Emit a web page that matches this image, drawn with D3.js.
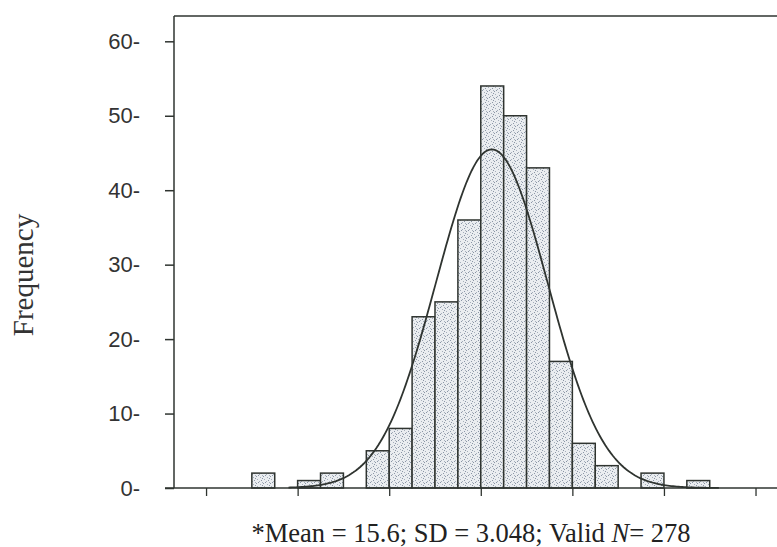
<!DOCTYPE html>
<html>
<head>
<meta charset="utf-8">
<script src="https://cdn.jsdelivr.net/npm/d3@7"></script>
<style>
  body { margin: 0; background: #fff; }
  svg { display: block; }
</style>
</head>
<body>
<div id="chart"></div>
<script>
// histogram data (bin start, bin width 1.25)
const binStarts = [2.5, 5, 6.25, 8.75, 10, 11.25, 12.5, 13.75, 15, 16.25, 17.5, 18.75, 20, 21.25, 23.75, 26.25];
const frequencies = [2, 1, 2, 5, 8, 23, 25, 36, 54, 50, 43, 17, 6, 3, 2, 1];
const binWidth = 1.25;
const yTicks = [0, 10, 20, 30, 40, 50, 60];
const xTicks = [0, 5, 10, 15, 20, 25, 30];
const stats = { mean: 15.6, sd: 3.048, n: 278 };

const W = 777, H = 547;
const ink = '#2f3430';

const svg = d3.select('#chart')
  .append('svg')
  .attr('width', W)
  .attr('height', H);

// stipple fill for the bars
const defs = svg.append('defs');
const pat = defs.append('pattern')
  .attr('id', 'stipple')
  .attr('patternUnits', 'userSpaceOnUse')
  .attr('width', 7)
  .attr('height', 7);
pat.append('rect').attr('width', 7).attr('height', 7).attr('fill', '#eaedf0');
[[1, 1], [4, 0], [5, 3], [2, 4], [0, 5], [6, 6], [3, 6], [3, 2]].forEach(([px, py], i) => {
  pat.append('rect')
    .attr('x', px).attr('y', py)
    .attr('width', 1).attr('height', 1)
    .attr('fill', i % 2 ? '#8a95a5' : '#a6afbb');
});

const x = d3.scaleLinear()
  .domain([-1.75, 31.2])
  .range([174, 777.5]);

const y = d3.scaleLinear()
  .domain([0, 63.4])
  .range([488, 16]);

// bars
svg.append('g')
  .selectAll('rect')
  .data(binStarts.map((b, i) => ({ start: b, freq: frequencies[i] })))
  .join('rect')
  .attr('x', d => x(d.start))
  .attr('y', d => y(d.freq))
  .attr('width', d => x(d.start + binWidth) - x(d.start))
  .attr('height', d => y(0) - y(d.freq))
  .attr('fill', 'url(#stipple)')
  .attr('stroke', ink)
  .attr('stroke-width', 1.5);

// normal curve from the reported mean / SD / N
const curvePts = d3.range(4.5, 28.01, 0.1).map(v => {
  const z = (v - stats.mean) / stats.sd;
  return [v, stats.n * binWidth / (stats.sd * Math.sqrt(2 * Math.PI)) * Math.exp(-0.5 * z * z)];
});
svg.append('path')
  .datum(curvePts)
  .attr('fill', 'none')
  .attr('stroke', ink)
  .attr('stroke-width', 1.8)
  .attr('d', d3.line().x(d => x(d[0])).y(d => y(d[1])));

// frame: top line, left axis, bottom axis
svg.append('line')
  .attr('x1', 174).attr('x2', W + 2)
  .attr('y1', 16).attr('y2', 16)
  .attr('stroke', ink).attr('stroke-width', 1.5);

const yAxis = svg.append('g')
  .attr('transform', 'translate(174,0)')
  .call(d3.axisLeft(y).tickValues(yTicks).tickSize(9).tickPadding(25).tickFormat(d => d + '-'));
yAxis.select('.domain').attr('d', `M0,${y(0)}V16`).attr('stroke', ink).attr('stroke-width', 1.5);
yAxis.selectAll('line').attr('stroke', ink).attr('stroke-width', 1.5);
yAxis.selectAll('text')
  .attr('fill', '#333')
  .style('font-family', '"Liberation Sans", Arial, sans-serif')
  .style('font-size', '22px');

const xAxis = svg.append('g')
  .attr('transform', `translate(0,${y(0)})`)
  .call(d3.axisBottom(x).tickValues(xTicks).tickSize(8).tickFormat(''));
xAxis.select('.domain').attr('d', `M165,0H${W + 2}`).attr('stroke', ink).attr('stroke-width', 1.5);
xAxis.selectAll('line').attr('stroke', ink).attr('stroke-width', 1.3);

// labels
svg.append('text')
  .attr('transform', 'translate(33,275) rotate(-90)')
  .attr('text-anchor', 'middle')
  .attr('fill', '#333')
  .style('font-family', '"Liberation Serif", "Times New Roman", serif')
  .style('font-size', '29px')
  .text('Frequency');

const cap = svg.append('text')
  .attr('x', 471)
  .attr('y', 542)
  .attr('text-anchor', 'middle')
  .attr('fill', '#222')
  .style('font-family', '"Liberation Serif", "Times New Roman", serif')
  .style('font-size', '26.5px');
cap.append('tspan').text(`*Mean = ${stats.mean}; SD = ${stats.sd}; Valid `);
cap.append('tspan').style('font-style', 'italic').text('N');
cap.append('tspan').text(`= ${stats.n}`);
</script>
</body>
</html>
